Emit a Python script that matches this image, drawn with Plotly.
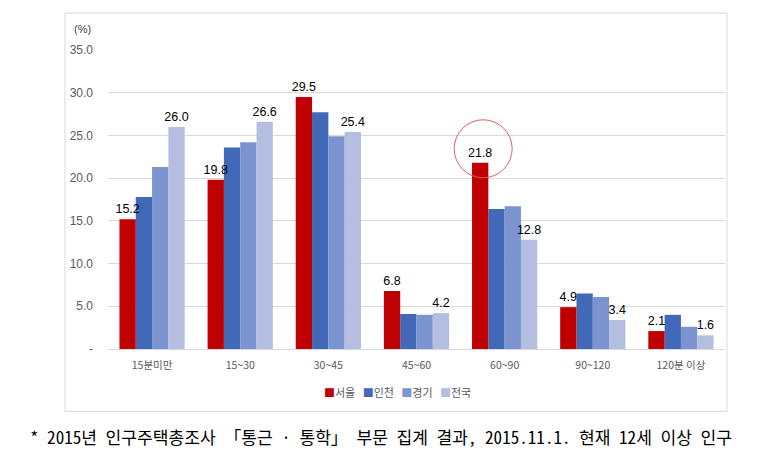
import plotly.graph_objects as go

categories = ["15분미만", "15~30", "30~45", "45~60", "60~90", "90~120", "120분 이상"]
series_names = ["서울", "인천", "경기", "전국"]
seoul = [15.2, 19.8, 29.5, 6.8, 21.8, 4.9, 2.1]
incheon = [17.8, 23.6, 27.7, 4.1, 16.4, 6.5, 4.0]
gyeonggi = [21.3, 24.2, 24.9, 4.0, 16.7, 6.1, 2.6]
national = [26.0, 26.6, 25.4, 4.2, 12.8, 3.4, 1.6]
series_values = [seoul, incheon, gyeonggi, national]
labelled = [True, False, False, True]
colors = ["#C00000", "#4169B8", "#7B94D0", "#B3BEE0"]
y_ticks = [0, 5, 10, 15, 20, 25, 30, 35]
y_tick_text = ["-", "5.0", "10.0", "15.0", "20.0", "25.0", "30.0", "35.0"]
highlight_cat = "60~90"
footnote = "* 2015년 인구주택총조사 「통근 · 통학」 부문 집계 결과, 2015.11.1. 현재 12세 이상 인구"

W, H = 765, 458
L, R, T, B = 108, 40, 50, 108.5
pw, ph = W - L - R, H - T - B

bargap = 0.26
bw = (1 - bargap) / 4
n = len(series_names)

fig = go.Figure()
# draw unlabelled series first so the value labels sit on top
order = [i for i in range(n) if not labelled[i]] + [i for i in range(n) if labelled[i]]
for i in order:
    name, vals, col, lab = series_names[i], series_values[i], colors[i], labelled[i]
    fig.add_trace(go.Bar(
        x=categories, y=vals, name=name, marker=dict(color=col, line=dict(width=0)),
        width=bw, offset=-(1 - bargap) / 2 + i * bw,
        text=[f"{v:.1f}" for v in vals] if lab else None,
        textposition="outside" if lab else "none",
        constraintext="none",
        textfont=dict(size=12.5, color="#000000", family="Liberation Sans"),
        cliponaxis=False, showlegend=False,
    ))

ci = categories.index(highlight_cat)
xa = ci - (1 - bargap) / 2 + bw / 2

def px_x(px):
    return (px - L) / pw

def px_y(py):
    return (H - B - py) / ph

shapes = [
    dict(type="rect", xref="paper", yref="paper", x0=px_x(65), x1=px_x(727), y0=px_y(412), y1=px_y(13),
         line=dict(color="#D9D9D9", width=1), fillcolor="rgba(0,0,0,0)", layer="below"),
    dict(type="circle", xref="x", yref="y", xsizemode="pixel", ysizemode="pixel",
         xanchor=xa, yanchor=seoul[ci], x0=-26, x1=32, y0=-15, y1=43,
         line=dict(color="#D9605A", width=1)),
]

legend_txt = "   ".join(f'<span style="color:{c}">■</span>{nm}' for nm, c in zip(series_names, colors))

annotations = [
    dict(text="(%)", xref="paper", yref="paper", x=px_x(82), y=px_y(29), showarrow=False,
         font=dict(size=11, color="#404040", family="Liberation Sans"), xanchor="center", yanchor="middle"),
    dict(text=legend_txt, xref="paper", yref="paper", x=px_x(397), y=px_y(393), showarrow=False,
         font=dict(size=11, color="#595959", family="Noto Sans CJK KR"), xanchor="center", yanchor="middle"),
    dict(text=footnote, xref="paper", yref="paper", x=px_x(28), y=px_y(437), showarrow=False,
         font=dict(size=17.1, color="#000000", family="Noto Sans Mono CJK KR, Noto Sans CJK KR"),
         xanchor="left", yanchor="middle"),
]

fig.update_layout(
    width=W, height=H, margin=dict(l=L, r=R, t=T, b=B),
    paper_bgcolor="white", plot_bgcolor="white",
    barmode="overlay",
    shapes=shapes, annotations=annotations, showlegend=False,
    xaxis=dict(type="category", showline=True, linecolor="#D9D9D9", linewidth=1, ticks="",
               tickfont=dict(size=10.5, color="#595959", family="Noto Sans CJK KR"), ticklabelstandoff=6),
    yaxis=dict(range=[0, 35], tickvals=y_ticks, ticktext=y_tick_text, showgrid=True, gridcolor="#D9D9D9",
               gridwidth=1, zeroline=False, ticks="", ticklabelstandoff=14,
               tickfont=dict(size=12, color="#595959", family="Liberation Sans")),
)

fig.write_html("out.html")
